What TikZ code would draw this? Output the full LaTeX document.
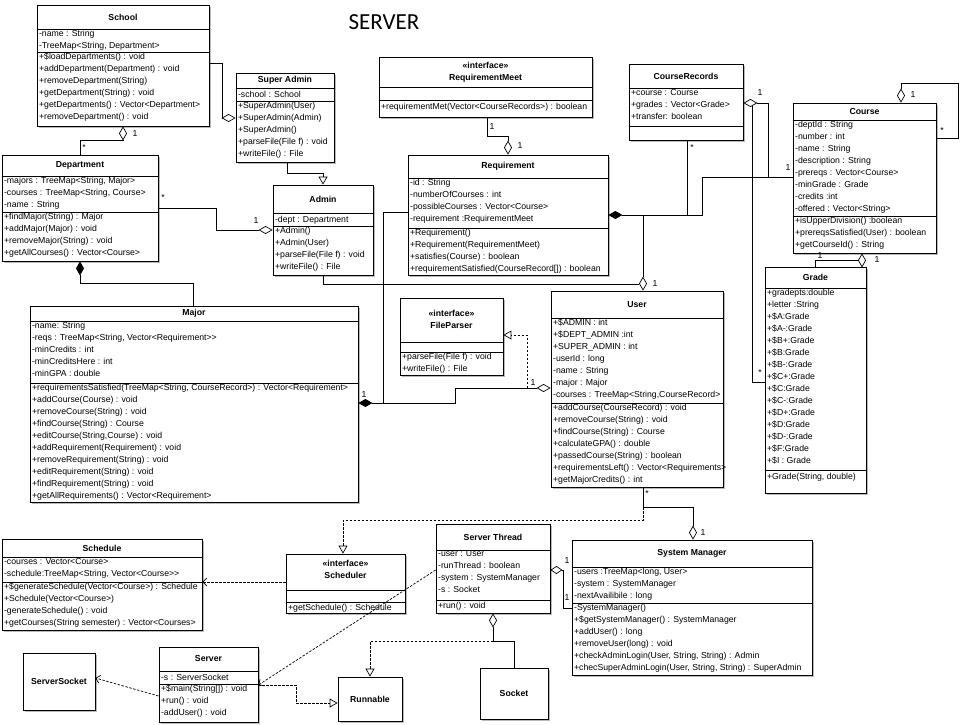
\documentclass[tikz,border=0pt]{standalone}
\usepackage{fontspec}
\setmainfont{Liberation Sans}
\newfontfamily\titlefont{Carlito}
\usetikzlibrary{arrows.meta,fit,shadows}
\newcommand\cf{\fontsize{8.7}{12}\selectfont}
\newcommand\cbox[5]{\node[cls, fit={(#2,#3)(#4,#5)}] (#1) {};}
\newcommand\csep[2]{\draw[cline] (#1.west |- 0,#2) -- (#1.east |- 0,#2);}
\newcommand\ctit[3]{\node[ctitle] (#1-t) at (#1.center |- 0,#2) {#3};}
\newcommand\ctxt[4]{\node[ctext] (#1-#2) at (#1.west |- 0,#3) {#4};}
\begin{document}
\begin{tikzpicture}[x=1pt,y=-1pt,
  cls/.style={draw=black, line width=0.8pt, fill=white, inner sep=0pt,
    drop shadow={shadow xshift=1.8pt, shadow yshift=-1.8pt, fill=black!45, opacity=0.6}},
  cline/.style={line width=0.8pt},
  ctext/.style={anchor=north west, inner xsep=2.3pt, inner ysep=0.8pt, align=left, font=\cf, execute at begin node=\strut},
  ctitle/.style={font=\cf\bfseries, align=center, inner sep=0pt},
  mult/.style={font=\cf, inner sep=0pt},
  conn/.style={line width=0.7pt},
  dsh/.style={dash pattern=on 2.5pt off 1.5pt},
  odia/.tip={Diamond[open,length=14pt,width=8pt]},
  sodia/.tip={Diamond[open,length=12pt,width=8pt]},
  fdia/.tip={Diamond[length=14pt,width=8pt]},
  otri/.tip={Triangle[open,length=8pt,width=9pt]},
  dep/.tip={Straight Barb[length=4pt,width=8pt]}
]
\fill[white] (0,0) rectangle (962,725);
\useasboundingbox (0,0) rectangle (962,725);

\node[font=\titlefont\fontsize{23}{27}\selectfont] (title) at (384,22) {SERVER};

% School
\cbox{school}{37}{5}{209}{126}
\ctit{school}{17}{School}
\csep{school}{29}\csep{school}{52}
\ctxt{school}{a}{29}{-name : String\\-TreeMap<String, Department>}
\ctxt{school}{m}{52}{+\$loadDepartments() : void\\+addDepartment(Department) : void\\+removeDepartment(String)\\+getDepartment(String) : void\\+getDepartments() : Vector<Department>\\+removeDepartment() : void}

% Super Admin
\cbox{sadmin}{236}{73}{334}{162}
\ctit{sadmin}{80.5}{Super Admin}
\csep{sadmin}{88}\csep{sadmin}{101}
\ctxt{sadmin}{a}{88}{-school : School}
\ctxt{sadmin}{m}{101}{+SuperAdmin(User)\\+SuperAdmin(Admin)\\+SuperAdmin()\\+parseFile(File f) : void\\+writeFile() : File}

% Department
\cbox{dept}{2}{155}{158}{261}
\ctit{dept}{165.5}{Department}
\csep{dept}{176}\csep{dept}{212}
\ctxt{dept}{a}{176}{-majors : TreeMap<String, Major>\\-courses : TreeMap<String, Course>\\-name : String}
\ctxt{dept}{m}{212}{+findMajor(String) : Major\\+addMajor(Major) : void\\+removeMajor(String) : void\\+getAllCourses() : Vector<Course>}

% Admin
\cbox{admin}{273}{185}{373}{275}
\ctit{admin}{199}{Admin}
\csep{admin}{213}\csep{admin}{226}
\ctxt{admin}{a}{213}{-dept : Department}
\ctxt{admin}{m}{226}{+Admin()\\+Admin(User)\\+parseFile(File f) : void\\+writeFile() : File}

% Major
\cbox{major}{30}{306}{358}{502}
\ctit{major}{313.5}{Major}
\csep{major}{321}\csep{major}{383}
\ctxt{major}{a}{321}{-name: String\\-reqs : TreeMap<String, Vector<Requirement>{}>\\-minCredits : int\\-minCreditsHere : int\\-minGPA : double}
\ctxt{major}{m}{383}{+requirementsSatisfied(TreeMap<String, CourseRecord>) : Vector<Requirement>\\+addCourse(Course) : void\\+removeCourse(String) : void\\+findCourse(String) : Course\\+editCourse(String,Course) : void\\+addRequirement(Requirement) : void\\+removeRequirement(String) : void\\+editRequirement(String) : void\\+findRequirement(String) : void\\+getAllRequirements() : Vector<Requirement>}

% RequirementMeet
\cbox{rmeet}{379}{57}{592}{117}
\ctit{rmeet}{72}{«interface»\\RequirementMeet}
\csep{rmeet}{87}\csep{rmeet}{100}
\ctxt{rmeet}{m}{100}{+requirementMet(Vector<CourseRecords>) : boolean}

% Requirement
\cbox{req}{408}{155}{608}{275}
\ctit{req}{166.5}{Requirement}
\csep{req}{178}\csep{req}{228}
\ctxt{req}{a}{178}{-id : String\\-numberOfCourses : int\\-possibleCourses : Vector<Course>\\-requirement :RequirementMeet}
\ctxt{req}{m}{228}{+Requirement()\\+Requirement(RequirementMeet)\\+satisfies(Course) : boolean\\+requirementSatisfied(CourseRecord[]) : boolean}

% CourseRecords
\cbox{crec}{629}{64}{743}{140}
\ctit{crec}{76}{CourseRecords}
\csep{crec}{88}\csep{crec}{126}
\ctxt{crec}{a}{88}{+course : Course\\+grades : Vector<Grade>\\+transfer: boolean}

% Course
\cbox{course}{793}{103}{936}{253}
\ctit{course}{111.5}{Course}
\csep{course}{120}\csep{course}{216}
\ctxt{course}{a}{120}{-deptId : String\\-number : int\\-name : String\\-description : String\\-prereqs : Vector<Course>\\-minGrade : Grade\\-credits :int\\-offered : Vector<String>}
\ctxt{course}{m}{216}{+isUpperDivision() :boolean\\+prereqsSatisfied(User) : boolean\\+getCourseId() : String}

% Grade
\cbox{grade}{765}{267}{866}{493}
\ctit{grade}{277.5}{Grade}
\csep{grade}{288}\csep{grade}{470}
\ctxt{grade}{a}{288}{+gradepts:double\\+letter :String\\+\$A:Grade\\+\$A-:Grade\\+\$B+:Grade\\+\$B:Grade\\+\$B-:Grade\\+\$C+:Grade\\+\$C:Grade\\+\$C-:Grade\\+\$D+:Grade\\+\$D:Grade\\+\$D-:Grade\\+\$F:Grade\\+\$I : Grade}
\ctxt{grade}{m}{470}{+Grade(String, double)}

% FileParser
\cbox{fparser}{400}{298}{503}{375}
\ctit{fparser}{319}{«interface»\\FileParser}
\csep{fparser}{342}\csep{fparser}{352}
\ctxt{fparser}{m}{352}{+parseFile(File f) : void\\+writeFile() : File}

% User
\cbox{user}{551}{291}{723}{487}
\ctit{user}{304.5}{User}
\csep{user}{318}\csep{user}{403}
\ctxt{user}{a}{318}{+\$ADMIN : int\\+\$DEPT\_ADMIN :int\\+SUPER\_ADMIN : int\\-userId : long\\-name : String\\-major : Major\\-courses : TreeMap<String,CourseRecord>}
\ctxt{user}{m}{403}{+addCourse(CourseRecord) : void\\+removeCourse(String) : void\\+findCourse(String) : Course\\+calculateGPA() : double\\+passedCourse(String) : boolean\\+requirementsLeft() : Vector<Requirements>\\+getMajorCredits() : int}

% Schedule
\cbox{schedule}{2}{539}{202}{630}
\ctit{schedule}{548}{Schedule}
\csep{schedule}{557}\csep{schedule}{582}
\ctxt{schedule}{a}{557}{-courses : Vector<Course>\\-schedule:TreeMap<String, Vector<Course>{}>}
\ctxt{schedule}{m}{582}{+\$generateSchedule(Vector<Course>) : Schedule\\+Schedule(Vector<Course>)\\-generateSchedule() : void\\+getCourses(String semester) : Vector<Courses>}

% Scheduler
\cbox{scheduler}{286}{554}{405}{613}
\ctit{scheduler}{569}{«interface»\\Scheduler}
\csep{scheduler}{590}\csep{scheduler}{602}
\ctxt{scheduler}{m}{601}{+getSchedule() : Schedule}

% Server Thread
\cbox{sthread}{436}{524}{550}{613}
\ctit{sthread}{537}{Server Thread}
\csep{sthread}{550}\csep{sthread}{600}
\ctxt{sthread}{a}{550}{-user : User\\-runThread : boolean\\-system : SystemManager\\-s : Socket}
\ctxt{sthread}{m}{599}{+run() : void}

% System Manager
\cbox{sysman}{572}{540}{812}{675}
\ctit{sysman}{553.5}{System Manager}
\csep{sysman}{567}\csep{sysman}{603}
\ctxt{sysman}{a}{567}{-users :TreeMap<long, User>\\-system : SystemManager\\-nextAvailibile : long}
\ctxt{sysman}{m}{603}{-SystemManager()\\+\$getSystemManager() : SystemManager\\+addUser() : long\\+removeUser(long) : void\\+checkAdminLogin(User, String, String) : Admin\\+checSuperAdminLogin(User, String, String) : SuperAdmin}

% Server
\cbox{server}{159}{647}{258}{722}
\ctit{server}{659}{Server}
\csep{server}{671}\csep{server}{684}
\ctxt{server}{a}{671}{-s : ServerSocket}
\ctxt{server}{m}{684}{+\$main(String[]) : void\\+run() : void\\-addUser() : void}

% ServerSocket, Runnable, Socket
\cbox{ssocket}{23}{653}{95}{710}
\node[ctitle] (ssocket-t) at (ssocket.center) {ServerSocket};
\cbox{runnable}{338}{677}{402}{721}
\node[ctitle] (runnable-t) at (runnable.center) {Runnable};
\cbox{socket}{480}{668}{548}{719}
\node[ctitle] (socket-t) at (socket.center) {Socket};

% ---------- connectors ----------
\draw[conn,-odia] (school.east |- 0,63) -| (222,118) -- (sadmin.west |- 0,118);
\draw[conn,-odia] (dept.north -| 80,0) |- (123,140) -- (school.south -| 123,0);
\draw[conn,-otri] (sadmin.south -| 287,0) |- (323,173) -- (admin.north -| 323,0);
\draw[conn,-odia] (dept.east |- 0,208) -| (216,230) -- (admin.west |- 0,230);
\draw[conn,fdia-] (dept.south -| 80,0) |- (193,283) -- (major.north -| 193,0);

\coordinate (udl) at (639,284);
\draw[conn] (admin.south -| 323,0) |- (udl);

\coordinate (jr1) at (643,215);
\coordinate (jr2) at (687,215);
\coordinate (jr3) at (702,215);
\draw[conn,fdia-] (req.east |- 0,215) -- (jr3) |- (course.west |- 0,177);
\draw[conn] (jr2) -- (crec.south -| 687,0);
\draw[conn,-odia] (jr1) -- (user.north -| 643,0);

\draw[conn,odia-] (crec.east |- 0,103) -| (768,177) -- (course.west |- 0,177);
\coordinate (cg) at (752,106);
\draw[conn] (cg) |- (grade.west |- 0,382);

\draw[conn,-odia] (rmeet.south -| 487,0) |- (508,136) -- (req.north -| 508,0);

\coordinate (jm1) at (383,403);
\draw[conn,fdia-odia] (major.east |- 0,403) -| (455,388) -- (user.west |- 0,388);
\draw[conn] (jm1) |- (req.west |- 0,212);

\coordinate (uf) at (527,388);
\draw[conn,dsh,-otri] (uf) |- (fparser.east |- 0,335);

\draw[conn,odia-] (course.north -| 901,0) |- (958,83) |- (course.east |- 0,138);

\draw[conn] (grade.north -| 815,0) |- (858,260);
\draw[conn,-odia] (grade.north -| 862,0) -- (course.south -| 862,0);

\coordinate (us) at (643,507);
\draw[conn,-odia] (user.south -| 643,0) -- (us) -| (sysman.north -| 693,0);
\draw[conn,dsh,-otri] (us) -- (643,520) -| (scheduler.north -| 343,0);

\draw[conn,sodia-] (sthread.east |- 0,570) -| (563,608) -- (sysman.west |- 0,608);

\coordinate (st) at (493,641);
\draw[conn,odia-] (sthread.south -| 493,0) -- (st) -| (socket.north);
\draw[conn,dsh,-otri] (st) -| (runnable.north);

\draw[conn,dsh,-otri] (server.east |- 0,685) -| (296,703) -- (runnable.west |- 0,703);
\draw[conn,dsh,-dep] (sthread.west |- 0,570) -- (server.east |- 0,685);
\draw[conn,dsh,-dep] (server.west |- 0,696) -- (ssocket.east |- 0,678);
\draw[conn,dsh,-dep] (scheduler.west |- 0,582) -- (schedule.east |- 0,582);

% ---------- multiplicities ----------
\node[mult] (l1) at (135,134) {1};
\node[mult] (l2) at (84,148) {*};
\node[mult] (l3) at (163,198) {*};
\node[mult] (l4) at (256,221) {1};
\node[mult] (l5) at (492,127) {1};
\node[mult] (l6) at (520,146) {1};
\node[mult] (l7) at (760,93) {1};
\node[mult] (l8) at (692,148) {*};
\node[mult] (l9) at (788,168) {1};
\node[mult] (l10) at (913,95) {1};
\node[mult] (l11) at (942,131) {*};
\node[mult] (l12) at (760,373) {*};
\node[mult] (l13) at (820,256) {1};
\node[mult] (l14) at (877,260) {1};
\node[mult] (l15) at (655,284) {1};
\node[mult] (l16) at (364,395) {1};
\node[mult] (l17) at (533,383) {1};
\node[mult] (l18) at (647,494) {*};
\node[mult] (l19) at (703,533) {1};
\node[mult] (l20) at (567,561) {1};
\node[mult] (l21) at (567,598) {1};
\end{tikzpicture}
\end{document}
